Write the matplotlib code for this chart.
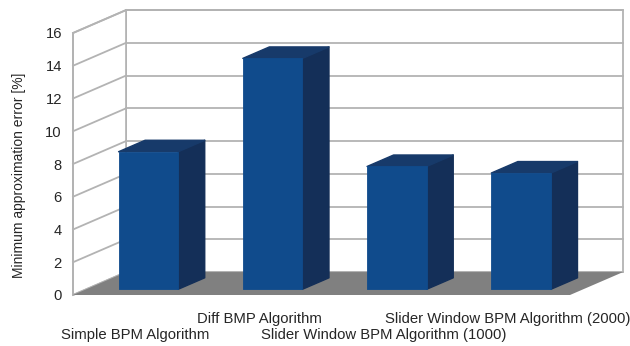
import matplotlib
matplotlib.use("Agg")
import matplotlib.pyplot as plt
from matplotlib.patches import Polygon

plt.rcParams['font.family'] = ['Liberation Sans', 'DejaVu Sans']

categories = ["Simple BPM Algorithm", "Diff BMP Algorithm",
              "Slider Window BPM Algorithm (1000)", "Slider Window BPM Algorithm (2000)"]
values = [8.4, 14.1, 7.5, 7.1]
y_ticks = [0, 2, 4, 6, 8, 10, 12, 14, 16]
y_label = "Minimum approximation error [%]"

# oblique projection of the depth axis (in data units)
DX, DY = 0.427, 1.40
X0, X1 = -0.5, len(categories) - 0.5
YMAX = 16
BAR_W = 0.48
F0, F1 = 0.25, 0.75   # bar front/back depth fractions

GRID = "#b3b3b3"
FLOOR = "#808080"
FRONT = "#104b8c"
SIDE = "#142f58"
TOP = "#173a6a"
TEXT = "#262626"

W, H = 630, 346
fig = plt.figure(figsize=(W / 100, H / 100), dpi=100)
ax = fig.add_axes([73 / W, (H - 295) / H, 497 / W, 262 / H])
ax.set_xlim(X0, X1)
ax.set_ylim(0, YMAX)


def poly(pts, fc, ec=None, lw=0.0, z=1):
    p = Polygon(pts, closed=True, facecolor=fc, edgecolor=ec if ec else fc,
                linewidth=lw, joinstyle="round", clip_on=False, zorder=z)
    ax.add_patch(p)


# walls
poly([(X0 + DX, DY), (X1 + DX, DY), (X1 + DX, YMAX + DY), (X0 + DX, YMAX + DY)],
     "white", GRID, 1.3, z=1)
poly([(X0, 0), (X0 + DX, DY), (X0 + DX, YMAX + DY), (X0, YMAX)],
     "white", GRID, 1.3, z=1)
for v in y_ticks:
    ax.plot([X0, X0 + DX], [v, v + DY], color=GRID, lw=1.3, clip_on=False, zorder=2)
    ax.plot([X0 + DX, X1 + DX], [v + DY, v + DY], color=GRID, lw=1.3,
            clip_on=False, zorder=2)

# floor
poly([(X0, 0), (X1, 0), (X1 + DX, DY), (X0 + DX, DY)], FLOOR, z=3)

# bars
for i, v in enumerate(values):
    l = i - BAR_W / 2
    r = i + BAR_W / 2
    a0x, a0y = F0 * DX, F0 * DY
    a1x, a1y = F1 * DX, F1 * DY
    poly([(r + a0x, a0y), (r + a1x, a1y), (r + a1x, v + a1y), (r + a0x, v + a0y)],
         SIDE, lw=1.0, z=4)
    poly([(l + a0x, v + a0y), (r + a0x, v + a0y), (r + a1x, v + a1y), (l + a1x, v + a1y)],
         TOP, lw=1.0, z=4)
    poly([(l + a0x, a0y), (r + a0x, a0y), (r + a0x, v + a0y), (l + a0x, v + a0y)],
         FRONT, lw=0.6, z=5)

# axes decorations
for s in ["top", "right", "bottom"]:
    ax.spines[s].set_visible(False)
ax.spines["left"].set_color(GRID)
ax.spines["left"].set_linewidth(1.3)
ax.spines["left"].set_zorder(2)
ax.set_yticks(y_ticks)
ax.tick_params(axis="y", length=0, pad=8, labelsize=10.6, labelcolor=TEXT)

ax.set_xticks([1, 3])
ax.set_xticklabels([categories[1], categories[3]])
ax.set_xticks([0, 2], minor=True)
ax.set_xticklabels([categories[0], categories[2]], minor=True)
ax.tick_params(axis="x", which="major", length=0, pad=12.5, labelsize=10.7,
               labelcolor=TEXT)
ax.tick_params(axis="x", which="minor", length=0, pad=23.5, labelsize=10.7,
               labelcolor=TEXT)

ax.set_ylabel(y_label, fontsize=10, color=TEXT)
ax.yaxis.set_label_coords(-0.095, 0.458)
ax.patch.set_visible(False)

fig.savefig("out.png", dpi=100)
